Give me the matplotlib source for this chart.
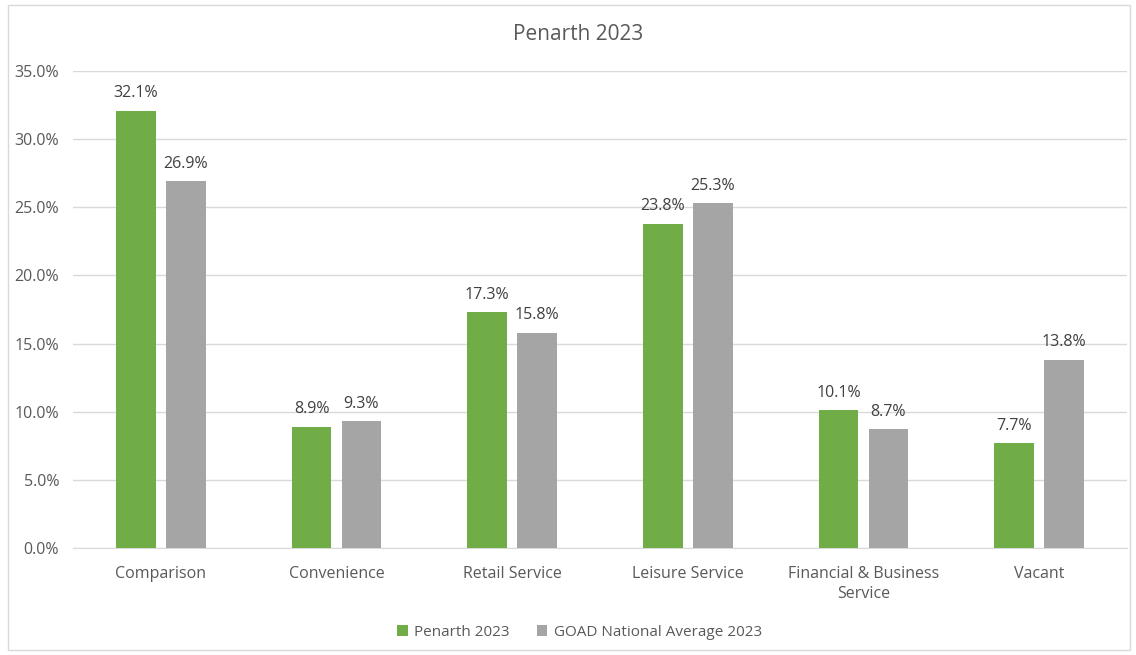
import matplotlib.pyplot as plt
import numpy as np
from matplotlib.patches import Rectangle

categories = ["Comparison", "Convenience", "Retail Service", "Leisure Service",
              "Financial & Business\nService", "Vacant"]
penarth = [32.1, 8.9, 17.3, 23.8, 10.1, 7.7]
national = [26.9, 9.3, 15.8, 25.3, 8.7, 13.8]
series_names = ["Penarth 2023", "GOAD National Average 2023"]
yticks = [0, 5, 10, 15, 20, 25, 30, 35]

plt.rcParams['font.family'] = ['Open Sans', 'DejaVu Sans']

fig = plt.figure(figsize=(11.36, 6.55), dpi=100)
fig.patches.append(Rectangle((8/1136, 5/655), 1122/1136, 645/655, transform=fig.transFigure,
                             fill=False, edgecolor='#D9D9D9', linewidth=1))
ax = fig.add_axes([73/1136, 107/655, 1054/1136, 477/655])

x = np.arange(len(categories))
w = 0.227
off = 0.142
green = '#70AD47'
grey = '#A5A5A5'
b1 = ax.bar(x - off, penarth, w, color=green, label=series_names[0], zorder=3)
b2 = ax.bar(x + off, national, w, color=grey, label=series_names[1], zorder=3)

for bars, vals in ((b1, penarth), (b2, national)):
    for rect, v in zip(bars, vals):
        ax.text(rect.get_x() + rect.get_width() / 2, v + 0.7, f"{v:.1f}%",
                ha='center', va='bottom', fontsize=11.5, color='#404040')

ax.set_xlim(-0.5, len(categories) - 0.5)
ax.set_ylim(0, 35)
ax.set_yticks(yticks)
ax.set_yticklabels([f"{t:.1f}%" for t in yticks])
ax.set_xticks(x)
ax.set_xticklabels(categories, linespacing=1.3)
ax.grid(axis='y', color='#D9D9D9', linewidth=1, zorder=0)
for s in ('top', 'right', 'left'):
    ax.spines[s].set_visible(False)
ax.spines['bottom'].set_color('#D9D9D9')
ax.tick_params(axis='both', length=0, labelsize=11.5, colors='#595959')
ax.tick_params(axis='x', pad=13)
ax.tick_params(axis='y', pad=10)

fig.text(0.509, 1 - 35/655, "Penarth 2023", ha='center', va='center', fontsize=15, color='#595959')

fig.legend(loc='center', bbox_to_anchor=(0.51, 1 - 632/655), ncol=2, frameon=False,
           fontsize=11, labelcolor='#595959', handlelength=0.7, handleheight=0.7,
           handletextpad=0.4, columnspacing=1.8)

fig.savefig('out.png', dpi=100, facecolor='white')
